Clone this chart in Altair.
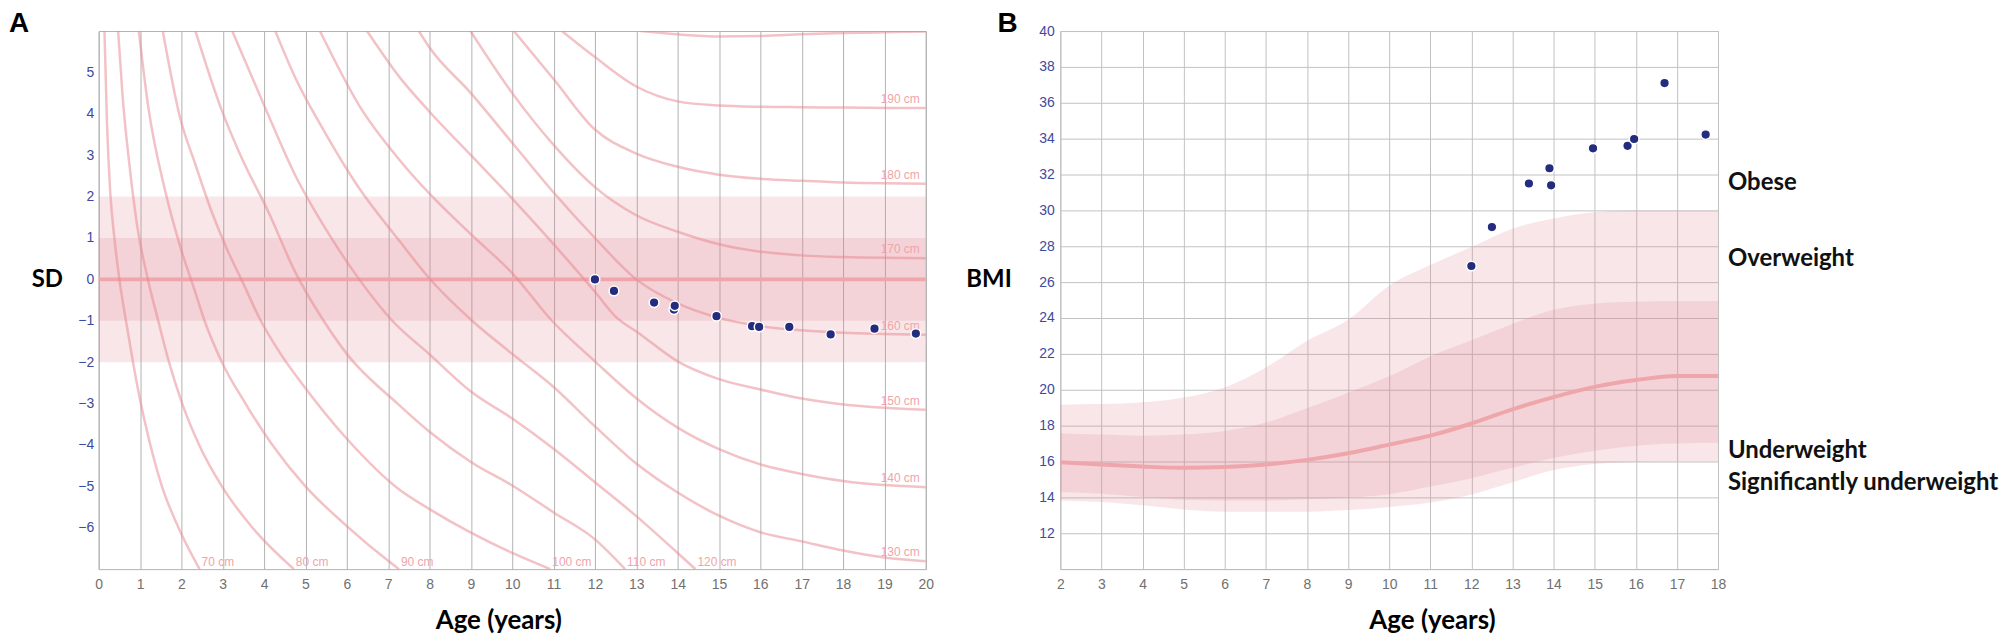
import altair as alt
import pandas as pd

# ---------------- Panel A : height SD-for-age chart ----------------
PATIENT_AGE_A = [12.0, 12.46, 13.43, 13.91, 13.93, 14.94, 15.8, 15.97, 16.7, 17.7, 18.76, 19.76]
PATIENT_SD_A = [0.0, -0.28, -0.56, -0.73, -0.64, -0.89, -1.13, -1.15, -1.15, -1.33, -1.19, -1.31]

SD_TICKS = list(range(-6, 6))
AGE_TICKS_A = list(range(0, 21))
BAND_OUTER_SD = [-2, 2]
BAND_INNER_SD = [-1, 1]
MEDIAN_SD = [0]

# constant-height curves: (age, SD)
CURVE_70 = [(0.14, 6.0), (0.2, 3.8), (0.28, 2.1), (0.38, 1.0), (0.5, 0.0), (0.66, -1.0), (0.83, -2.0),
            (1.02, -3.0), (1.25, -4.0), (1.53, -5.0), (1.93, -6.0), (2.44, -7.0)]
CURVE_80 = [(0.47, 6.0), (0.58, 4.4), (0.74, 2.8), (0.93, 1.3), (1.19, 0.0), (1.44, -1.0), (1.7, -2.0),
            (2.02, -3.0), (2.43, -4.0), (2.98, -5.0), (3.72, -6.0), (4.72, -7.0)]
CURVE_90 = [(0.97, 6.0), (1.2, 4.16), (1.61, 2.13), (2.01, 0.67), (2.3, -0.2), (2.56, -1.0), (2.98, -2.0),
            (3.55, -3.0), (4.2, -4.0), (5.0, -5.0), (6.0, -5.96), (7.0, -6.8), (7.26, -7.0)]
CURVE_100 = [(1.55, 6.0), (1.97, 3.9), (2.33, 2.8), (2.73, 1.64), (3.13, 0.67), (3.45, 0.0), (3.92, -1.0),
             (4.4, -1.8), (5.0, -2.63), (6.0, -3.85), (7.26, -5.07), (8.0, -5.55), (9.0, -6.12),
             (10.0, -6.61), (10.92, -7.0)]
CURVE_110 = [(2.34, 6.0), (2.97, 4.1), (3.45, 2.95), (4.1, 1.64), (4.74, 0.2), (5.44, -1.0), (6.0, -1.8),
             (7.26, -3.03), (8.0, -3.68), (9.0, -4.41), (10.0, -4.98), (11.0, -5.63), (12.0, -6.28),
             (12.73, -7.0)]
CURVE_120 = [(3.23, 6.0), (4.02, 4.16), (4.74, 2.54), (5.5, 1.2), (6.3, 0.0), (7.1, -1.0), (8.0, -1.81),
             (9.0, -2.71), (10.0, -3.36), (11.0, -4.09), (12.0, -4.9), (13.0, -5.72), (14.0, -6.61),
             (14.43, -7.0)]
CURVE_130 = [(4.27, 6.0), (4.74, 4.9), (5.5, 3.5), (6.3, 2.2), (7.28, 0.92), (8.0, 0.02), (9.03, -1.0),
             (10.0, -1.8), (11.0, -2.6), (12.0, -3.55), (13.0, -4.45), (14.0, -5.15), (15.0, -5.71),
             (16.0, -6.11), (17.0, -6.33), (18.0, -6.55), (19.0, -6.72), (20.0, -6.81)]
CURVE_140 = [(5.35, 6.0), (6.3, 4.2), (7.28, 2.88), (8.0, 2.07), (9.0, 1.09), (10.0, 0.15), (10.96, -1.0),
             (12.0, -1.98), (13.0, -2.87), (14.0, -3.58), (15.0, -4.1), (16.0, -4.47), (17.0, -4.7),
             (18.0, -4.87), (19.0, -4.97), (20.0, -5.02)]
CURVE_150 = [(6.49, 6.0), (7.28, 4.88), (8.0, 4.05), (9.0, 3.0), (10.0, 1.95), (11.0, 0.85), (12.0, -0.3),
             (12.5, -0.9), (13.06, -1.3), (14.0, -1.98), (15.0, -2.41), (16.0, -2.66), (17.0, -2.88),
             (18.0, -3.02), (19.0, -3.1), (20.0, -3.15)]
CURVE_160 = [(7.74, 6.0), (8.0, 5.6), (9.0, 4.5), (10.0, 3.3), (11.0, 2.1), (12.0, 1.0), (13.0, 0.0),
             (14.0, -0.58), (15.0, -0.93), (16.0, -1.13), (17.0, -1.23), (18.0, -1.29), (19.0, -1.32),
             (20.0, -1.34)]
CURVE_170 = [(8.99, 6.0), (10.0, 4.5), (11.0, 3.25), (12.0, 2.23), (13.0, 1.55), (14.0, 1.15), (15.0, 0.85),
             (16.0, 0.67), (17.0, 0.58), (18.0, 0.54), (19.0, 0.52), (20.0, 0.51)]
CURVE_180 = [(10.04, 6.0), (11.0, 4.84), (12.0, 3.62), (13.0, 3.04), (14.0, 2.72), (15.0, 2.53),
             (16.0, 2.43), (17.0, 2.38), (18.0, 2.34), (19.0, 2.32), (20.0, 2.31)]
CURVE_190 = [(11.2, 6.0), (12.0, 5.37), (13.0, 4.66), (14.0, 4.3), (15.0, 4.2), (16.0, 4.17), (17.0, 4.16),
             (18.0, 4.15), (20.0, 4.14)]
CURVE_200 = [(13.1, 6.0), (14.0, 5.92), (15.0, 5.87), (16.0, 5.88), (17.0, 5.92), (18.0, 5.95),
             (19.0, 5.97), (20.0, 5.99)]

HEIGHT_CURVES = [(70, CURVE_70), (80, CURVE_80), (90, CURVE_90), (100, CURVE_100), (110, CURVE_110),
                 (120, CURVE_120), (130, CURVE_130), (140, CURVE_140), (150, CURVE_150),
                 (160, CURVE_160), (170, CURVE_170), (180, CURVE_180), (190, CURVE_190),
                 (200, CURVE_200)]
RIGHT_LABELLED = [130, 140, 150, 160, 170, 180, 190]
BOTTOM_LABELLED = [70, 80, 90, 100, 110, 120]

# ---------------- Panel B : BMI-for-age chart ----------------
PATIENT_AGE_B = [12.0, 12.5, 13.4, 13.9, 13.94, 14.96, 15.8, 15.96, 16.7, 17.7]
PATIENT_BMI_B = [26.9, 29.07, 31.5, 32.35, 31.4, 33.46, 33.6, 33.98, 37.1, 34.23]

BMI_AGES = list(range(2, 19))
BMI_OUT_HI = [19.17, 19.2, 19.3, 19.57, 20.13, 21.24, 22.72, 23.9, 25.8, 26.95, 27.96, 28.98, 29.55,
              29.9, 30.0, 30.0, 30.0]
BMI_IN_HI = [17.57, 17.5, 17.44, 17.5, 17.7, 18.17, 18.97, 19.84, 20.75, 21.86, 22.76, 23.67, 24.46,
             24.8, 24.9, 24.95, 24.95]
BMI_MEDIAN = [15.96, 15.83, 15.72, 15.65, 15.69, 15.83, 16.09, 16.46, 16.94, 17.44, 18.12, 18.91, 19.59,
              20.16, 20.54, 20.77, 20.77]
BMI_IN_LO = [14.3, 14.2, 14.02, 13.87, 13.83, 13.83, 13.9, 13.98, 14.17, 14.6, 15.07, 15.65, 16.2,
             16.6, 16.88, 17.0, 17.04]
BMI_OUT_LO = [13.83, 13.74, 13.56, 13.33, 13.2, 13.2, 13.2, 13.29, 13.46, 13.71, 14.16, 14.84, 15.52,
              15.86, 15.97, 16.0, 16.0]

BMI_TICKS = list(range(12, 41, 2))
AGE_TICKS_B = list(range(2, 19))
CATEGORY_LABELS = ["Obese", "Overweight", "Underweight", "Significantly underweight"]
CATEGORY_BMI = [31.5, 27.3, 16.6, 14.8]

# ---------------- styles ----------------
NAVY = "#242c7f"
PINK = "#dc828c"
CURVE_COL = "#e8868d"
MEDIAN_COL = "#efa6ab"
LABEL_PINK = "#f1a4a9"
YLAB = "#3d4aa0"
XLAB = "#707070"
TITLE_FONT = "Lato"
TICK_FONT = "Liberation Sans"

WA, HA = 830, 540
WB, HB = 660, 540

# ---------- panel A data frames ----------
curve_rows = []
for h, pts in HEIGHT_CURVES:
    for a, s in pts:
        curve_rows.append({"height": h, "age": a, "sd": s})
df_curves = pd.DataFrame(curve_rows)

curve_map = dict(HEIGHT_CURVES)
df_right = pd.DataFrame([{"age": curve_map[h][-1][0], "sd": curve_map[h][-1][1], "label": f"{h} cm"}
                         for h in RIGHT_LABELLED])
df_bottom = pd.DataFrame([{"age": curve_map[h][-1][0], "sd": curve_map[h][-1][1], "label": f"{h} cm"}
                          for h in BOTTOM_LABELLED])
df_pts_a = pd.DataFrame({"age": PATIENT_AGE_A, "sd": PATIENT_SD_A})
df_band_o = pd.DataFrame({"sd": [BAND_OUTER_SD[0]], "sd2": [BAND_OUTER_SD[1]]})
df_band_i = pd.DataFrame({"sd": [BAND_INNER_SD[0]], "sd2": [BAND_INNER_SD[1]]})
df_med_a = pd.DataFrame({"sd": MEDIAN_SD})

xA = alt.X("age:Q",
           scale=alt.Scale(domain=[0, 20], nice=False, zero=False),
           axis=alt.Axis(values=AGE_TICKS_A, grid=True, gridColor="#b2b2b2", gridWidth=1,
                         labelColor=XLAB, labelPadding=8, labelFlush=False, labelOverlap=False,
                         title="Age (years)", titleX=401, titleY=39, titleBaseline="top",
                         titleAlign="center", titleAnchor=None))
yA = alt.Y("sd:Q",
           scale=alt.Scale(domain=[-7, 6], nice=False, zero=False),
           axis=alt.Axis(values=SD_TICKS, grid=False, labelColor=YLAB, labelPadding=5,
                         labelOverlap=False, title="SD", titleAngle=0, titleX=-52, titleY=249,
                         titleAlign="center", titleBaseline="middle", titleFontSize=24))

band_o = alt.Chart(df_band_o).mark_rect(color=PINK, opacity=0.2).encode(y=yA, y2="sd2:Q")
band_i = alt.Chart(df_band_i).mark_rect(color=PINK, opacity=0.18).encode(y=yA, y2="sd2:Q")
med_a = alt.Chart(df_med_a).mark_rule(color=MEDIAN_COL, strokeWidth=4).encode(y=yA)
lines_a = alt.Chart(df_curves).mark_line(interpolate="monotone", color=CURVE_COL, opacity=0.5,
                                         strokeWidth=2.5, clip=True).encode(
    x=xA, y=yA, detail="height:N", order="age:Q")
lab_r = alt.Chart(df_right).mark_text(align="right", baseline="middle", dx=-6, dy=-9, fontSize=12,
                                      font=TICK_FONT, color=LABEL_PINK).encode(x=xA, y=yA, text="label:N")
lab_b = alt.Chart(df_bottom).mark_text(align="left", baseline="middle", dx=2, dy=-7, fontSize=12,
                                       font=TICK_FONT, color=LABEL_PINK).encode(x=xA, y=yA, text="label:N")
pts_a = alt.Chart(df_pts_a).mark_circle(size=95, color=NAVY, opacity=1, stroke="white",
                                        strokeWidth=1.5).encode(x=xA, y=yA)
tag_a = alt.Chart(pd.DataFrame({"t": ["A"]})).mark_text(
    align="left", baseline="top", font=TICK_FONT, fontWeight="bold", fontSize=28, color="black"
).encode(text="t:N", x=alt.value(-90), y=alt.value(-21))

panel_a = alt.layer(band_o, band_i, med_a, lines_a, lab_r, lab_b, pts_a, tag_a).properties(
    width=WA, height=HA)

# ---------- panel B ----------
df_bmi = pd.DataFrame({"age": BMI_AGES, "bmi": BMI_OUT_LO, "bmi2": BMI_OUT_HI,
                       "in_lo": BMI_IN_LO, "in_hi": BMI_IN_HI, "med": BMI_MEDIAN})
df_pts_b = pd.DataFrame({"age": PATIENT_AGE_B, "bmi": PATIENT_BMI_B})
df_cat = pd.DataFrame({"label": CATEGORY_LABELS, "bmi": CATEGORY_BMI})

xB = alt.X("age:Q",
           scale=alt.Scale(domain=[2, 18], nice=False, zero=False),
           axis=alt.Axis(values=AGE_TICKS_B, grid=True, gridColor="#c2c2c2", gridWidth=1,
                         labelColor=XLAB, labelPadding=8, labelFlush=False, labelOverlap=False,
                         title="Age (years)", titleX=373, titleY=39, titleBaseline="top",
                         titleAlign="center", titleAnchor=None))
bmi_scale = alt.Scale(domain=[10, 40], nice=False, zero=False)
yB_axis = alt.Axis(values=BMI_TICKS, grid=True, gridColor="#c2c2c2", gridWidth=1, labelColor=YLAB,
                   labelPadding=6, labelOverlap=False, title="BMI", titleAngle=0, titleX=-72,
                   titleY=249, titleAlign="center", titleBaseline="middle", titleFontSize=24)
yB = alt.Y("bmi:Q", scale=bmi_scale, axis=yB_axis)

area_o = alt.Chart(df_bmi).mark_area(color=PINK, opacity=0.2, interpolate="monotone").encode(
    x=xB, y=yB, y2="bmi2:Q")
area_i = alt.Chart(df_bmi).mark_area(color=PINK, opacity=0.18, interpolate="monotone").encode(
    x=xB, y=alt.Y("in_lo:Q", scale=bmi_scale, axis=yB_axis), y2="in_hi:Q")
med_b = alt.Chart(df_bmi).mark_line(color=MEDIAN_COL, strokeWidth=4, interpolate="monotone").encode(
    x=xB, y=alt.Y("med:Q", scale=bmi_scale, axis=yB_axis))
pts_b = alt.Chart(df_pts_b).mark_circle(size=95, color=NAVY, opacity=1, stroke="white",
                                        strokeWidth=1.5).encode(x=xB, y=yB)
cat_txt = alt.Chart(df_cat).mark_text(align="left", baseline="middle", dx=10, font=TITLE_FONT,
                                      fontWeight="bold", fontSize=24, color="#111111").encode(
    x=alt.X(datum=18, scale=alt.Scale(domain=[2, 18], nice=False, zero=False)), y=yB, text="label:N")
tag_b = alt.Chart(pd.DataFrame({"t": ["B"]})).mark_text(
    align="left", baseline="top", font=TICK_FONT, fontWeight="bold", fontSize=28, color="black"
).encode(text="t:N", x=alt.value(-63), y=alt.value(-21))

panel_b = alt.layer(area_o, area_i, med_b, pts_b, cat_txt, tag_b).properties(width=WB, height=HB)

chart = alt.hconcat(panel_a, panel_b, spacing=135, bounds="flush").properties(
    padding=0
).configure_view(
    stroke="#b3b3b3", strokeWidth=1
).configure_axis(
    domain=False, ticks=False, labelFont=TICK_FONT, labelFontSize=14,
    titleFont=TITLE_FONT, titleFontWeight="bold", titleFontSize=26, titleColor="black"
)

chart.save("out.html", embed_options={"renderer": "svg", "actions": False})
